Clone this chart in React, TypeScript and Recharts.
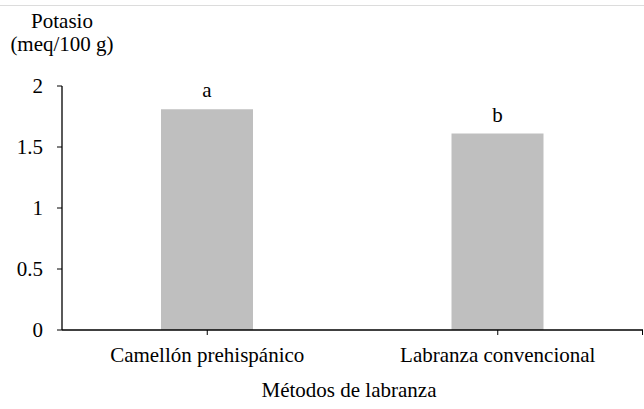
import { Bar, BarChart, LabelList, XAxis, YAxis } from 'recharts';

const categories = ['Camellón prehispánico', 'Labranza convencional'];
const potasio = [1.81, 1.61];
const letters = ['a', 'b'];
const yTicks = [0, 0.5, 1, 1.5, 2];

const data = categories.map((name, i) => ({ name, value: potasio[i], letter: letters[i] }));

const font = 'Liberation Serif, Tinos, Times New Roman, DejaVu Serif, serif';

export default function App() {
  return (
    <div
      style={{
        position: 'absolute',
        left: 0,
        top: 0,
        width: 644,
        height: 409,
        background: '#fff',
        fontFamily: font,
        color: '#000'
      }}
    >
      <div style={{ position: 'absolute', left: 0, top: 5, width: 644, height: 1, background: '#dcdcdc' }} />
      <BarChart
        width={644}
        height={409}
        data={data}
        margin={{ top: 86, right: 1, bottom: 0, left: 0 }}
        style={{ fontFamily: font }}
      >
        <XAxis
          dataKey='name'
          height={79}
          tickSize={5}
          tickMargin={12}
          tick={{ fontSize: 21, fill: '#000', fontFamily: font }}
          axisLine={{ stroke: '#000', strokeWidth: 1.3 }}
          tickLine={{ stroke: '#000' }}
        />
        <YAxis
          width={62}
          domain={[0, 2]}
          ticks={yTicks}
          tickSize={5}
          tickMargin={14}
          tick={{ fontSize: 21, fill: '#000', fontFamily: font }}
          axisLine={{ stroke: '#000', strokeWidth: 1.3 }}
          tickLine={{ stroke: '#000' }}
        />
        <Bar dataKey='value' fill='#bfbfbf' barSize={92} isAnimationActive={false}>
          <LabelList
            dataKey='letter'
            position='top'
            offset={12}
            style={{ fontSize: 21, fill: '#000', fontFamily: font }}
          />
        </Bar>
      </BarChart>
      <div style={{ position: 'absolute', left: 642, top: 330, width: 1, height: 5, background: '#000' }} />
      <div
        style={{
          position: 'absolute',
          left: 0,
          top: 10,
          width: 124,
          textAlign: 'center',
          fontSize: 21,
          lineHeight: '23px'
        }}
      >
        Potasio
        <br />
        (meq/100 g)
      </div>
      <div
        style={{
          position: 'absolute',
          left: 199,
          top: 378,
          width: 300,
          textAlign: 'center',
          fontSize: 21,
          lineHeight: '24px'
        }}
      >
        Métodos de labranza
      </div>
    </div>
  );
}
